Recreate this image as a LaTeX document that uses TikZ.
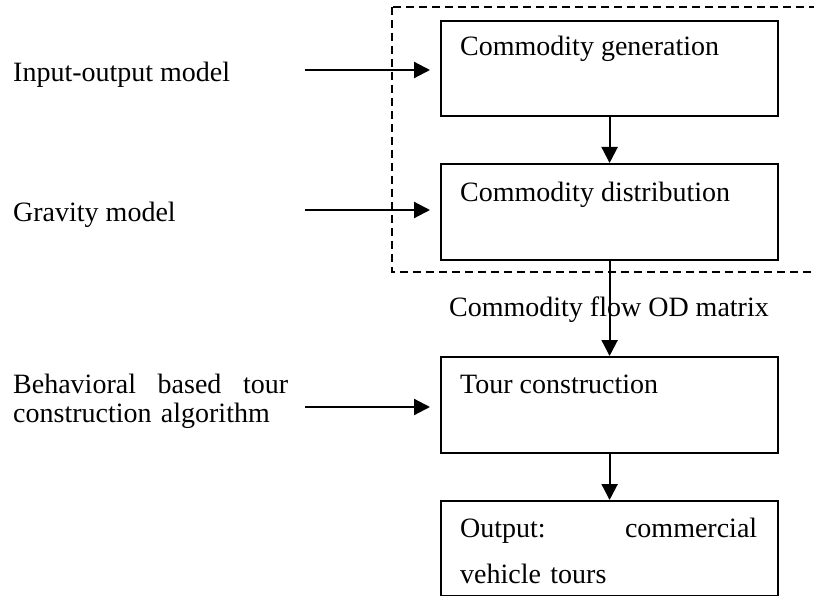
\documentclass[tikz,border=0pt]{standalone}
\usepackage{fontspec}
\setmainfont{Liberation Serif}
\usetikzlibrary{arrows.meta}
\begin{document}
\begin{tikzpicture}[x=1pt,y=-1pt,
  stage/.style={draw,line width=2.2pt,minimum width=337pt,minimum height=95pt,inner sep=0pt,anchor=north west},
  txt/.style={font=\fontsize{28}{30}\selectfont,inner sep=0pt,anchor=base west},
  flow/.style={line width=2.2pt,-{Triangle[width=16pt,length=16pt]}},
  group/.style={draw,line width=1.4pt,dash pattern=on 8pt off 5pt}]
\useasboundingbox (0,0) rectangle (814,596);

% dashed frame around the commodity stages
\draw[group] (392,7) rectangle (840,272);

% stage boxes
\node[stage] (g1) at (440,20) {};
\node[stage,minimum height=96pt] (g2) at (440,163) {};
\node[stage,minimum height=96pt] (g3) at (440,356) {};
\node[stage] (g4) at (440,500) {};

% stage texts
\node[txt] (t1) at (460,56) {Commodity generation};
\node[txt] (t2) at (460,202) {Commodity distribution};
\node[txt] (t3) at (460,393) {Tour construction};
\node[txt,text width=297pt,align=left,font=\fontsize{28}{46}\selectfont] (t4) at (460,537)
  {Output:\hfill commercial\\vehicle tours};

% model inputs
\node[txt] (m1) at (13,82) {Input-output model};
\node[txt] (m2) at (13,222) {Gravity model};
\node[txt,text width=275pt,align=left,font=\fontsize{28}{29}\selectfont] (m3) at (13,393)
  {Behavioral\hfill based\hfill tour\\construction algorithm};

\coordinate (s1) at (305,70);  \coordinate (e1) at (430,70);
\coordinate (s2) at (305,210); \coordinate (e2) at (430,210);
\coordinate (s3) at (305,407); \coordinate (e3) at (430,407);
\draw[flow] (s1) -- (e1);
\draw[flow] (s2) -- (e2);
\draw[flow] (s3) -- (e3);

% main flow
\draw[flow] (g1.south) -- (g2.north);
\node[txt,anchor=base] (od) at (609,316) {Commodity flow OD matrix};
\draw[flow] (g2.south) -- (g3.north);
\draw[flow] (g3.south) -- (g4.north);
\end{tikzpicture}
\end{document}
